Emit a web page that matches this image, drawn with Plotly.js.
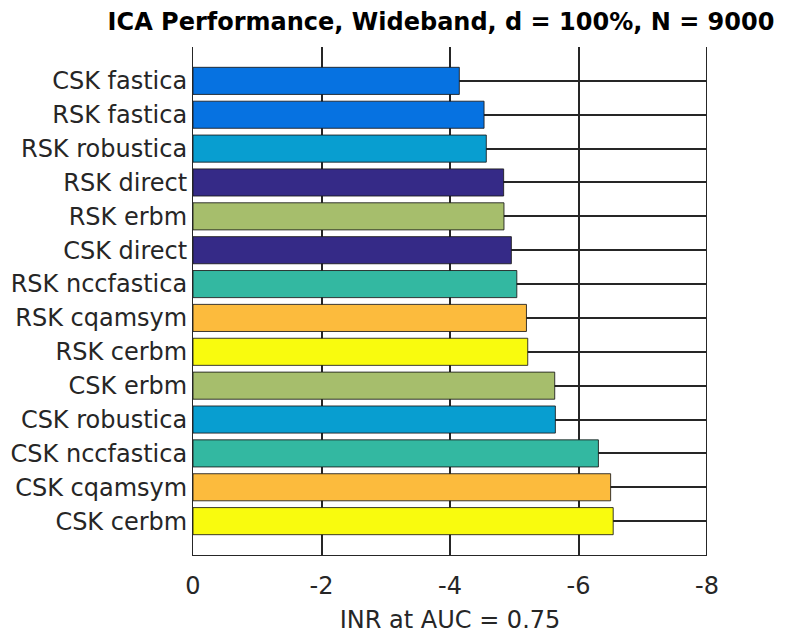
<!DOCTYPE html>
<html>
<head>
<meta charset="utf-8">
<script src="https://cdn.plot.ly/plotly-3.0.1.min.js"></script>
<style>html,body{margin:0;padding:0;background:#fff;}#chart{width:788px;height:641px;}</style>
</head>
<body>
<div id="chart"></div>
<script>
// categories listed bottom -> top
const categories = [
  "CSK cerbm", "CSK cqamsym", "CSK nccfastica", "CSK robustica", "CSK erbm",
  "RSK cerbm", "RSK cqamsym", "RSK nccfastica", "CSK direct", "RSK erbm",
  "RSK direct", "RSK robustica", "RSK fastica", "CSK fastica"
];
const inrValues = [
  -6.54, -6.50, -6.31, -5.64, -5.63,
  -5.21, -5.19, -5.04, -4.955, -4.84,
  -4.835, -4.565, -4.53, -4.145
];
const methods = [
  "cerbm", "cqamsym", "nccfastica", "robustica", "erbm",
  "cerbm", "cqamsym", "nccfastica", "direct", "erbm",
  "direct", "robustica", "fastica", "fastica"
];
const methodColors = {
  fastica: "rgb(6,114,225)",
  robustica: "rgb(8,158,208)",
  direct: "rgb(53,42,135)",
  erbm: "rgb(166,190,108)",
  nccfastica: "rgb(51,184,161)",
  cqamsym: "rgb(252,187,61)",
  cerbm: "rgb(249,251,14)"
};
const xTickVals = [0, -2, -4, -6, -8];
const xTickText = ["0", "-2", "-4", "-6", "-8"];

const FONT = "DejaVu Sans, Liberation Sans, Arial, sans-serif";

const trace = {
  type: "bar",
  orientation: "h",
  y: categories,
  x: inrValues,
  marker: {
    color: methods.map(m => methodColors[m]),
    line: {color: "rgba(25,25,25,0.85)", width: 1}
  },
  hoverinfo: "x+y"
};

const xEnd = xTickVals[xTickVals.length - 1];

const layout = {
  width: 788,
  height: 641,
  margin: {l: 193, r: 81, t: 47, b: 86},
  paper_bgcolor: "#fff",
  plot_bgcolor: "#fff",
  bargap: 0.2,
  showlegend: false,
  font: {family: FONT, size: 24, color: "#262626"},
  title: {
    text: "<b>ICA Performance, Wideband, d = 100%, N = 9000</b>",
    font: {family: FONT, size: 24, color: "#000"},
    xref: "container", x: 441 / 788, xanchor: "center",
    yref: "container", y: 1 - 22 / 641, yanchor: "middle"
  },
  xaxis: {
    range: [0, xEnd],
    tickvals: xTickVals,
    ticktext: xTickText,
    showgrid: true,
    gridcolor: "#262626",
    gridwidth: 2,
    zeroline: false,
    showline: true,
    linecolor: "#262626",
    linewidth: 1,
    ticks: "outside",
    ticklen: 9,
    tickcolor: "rgba(0,0,0,0)",
    tickfont: {family: FONT, size: 24, color: "#262626"},
    title: {text: "INR at AUC = 0.75", font: {family: FONT, size: 24, color: "#262626"}, standoff: 12},
    fixedrange: true
  },
  yaxis: {
    type: "category",
    categoryorder: "array",
    categoryarray: categories,
    range: [-1, 14],
    showgrid: true,
    gridcolor: "#262626",
    gridwidth: 2,
    zeroline: false,
    showline: true,
    linecolor: "#262626",
    linewidth: 1,
    ticks: "",
    ticklen: 0,
    tickfont: {family: FONT, size: 24, color: "#262626"},
    fixedrange: true
  },
  shapes: [{
    type: "line", layer: "below",
    xref: "x", x0: xEnd, x1: xEnd,
    yref: "paper", y0: 0, y1: 1,
    line: {color: "#262626", width: 2}
  }]
};

Plotly.newPlot("chart", [trace], layout, {displayModeBar: false, staticPlot: true});
</script>
</body>
</html>
